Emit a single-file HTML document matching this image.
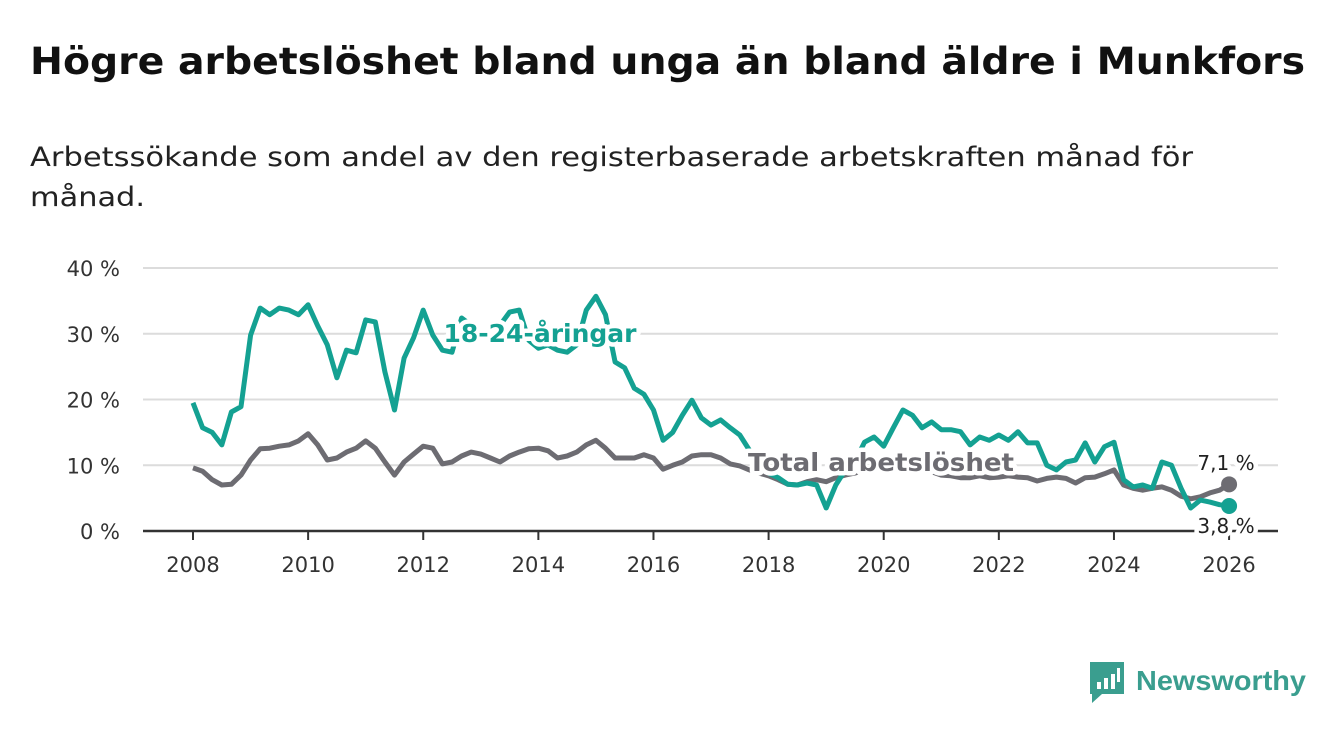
<!DOCTYPE html>
<html><head><meta charset="utf-8"><style>
body{margin:0;background:#fff;width:1340px;height:734px;overflow:hidden;font-family:"DejaVu Sans","Liberation Sans",sans-serif}
</style></head><body>
<svg width="1340" height="734" style="position:absolute;left:0;top:0;font-family:'DejaVu Sans','Liberation Sans',sans-serif">
<text x="30" y="74" font-size="37" font-weight="bold" fill="#111" textLength="1275" lengthAdjust="spacingAndGlyphs">Högre arbetslöshet bland unga än bland äldre i Munkfors</text>
<text x="30" y="166" font-size="27" fill="#222" textLength="1163" lengthAdjust="spacingAndGlyphs">Arbetssökande som andel av den registerbaserade arbetskraften månad för</text>
<text x="30" y="206" font-size="27" fill="#222" textLength="115" lengthAdjust="spacingAndGlyphs">månad.</text>
<g id="grid"></g><g id="series"></g><g id="labels"></g>
<g>
<path d="M1090 662 h34 v32 h-22 l-10 9 v-9 h-2 z" fill="#3a9e8f"/>
<rect x="1097" y="682" width="4" height="7" fill="#fff"/><rect x="1104" y="678" width="4" height="11" fill="#fff"/><rect x="1111" y="674" width="4" height="15" fill="#fff"/><rect x="1117" y="668" width="3" height="14" fill="#fff"/>
<text x="1136" y="690" font-size="28" font-weight="bold" fill="#3a9e8f" font-family="Liberation Sans" textLength="170" lengthAdjust="spacingAndGlyphs">Newsworthy</text>
</g>
</svg>
<script>
const yTicks=[0,10,20,30,40];
const xTicks=[2008,2010,2012,2014,2016,2018,2020,2022,2024,2026];
const startYear=2008, stepYear=1/6;
const youth=[19.5,15.7,15,13.1,18.1,18.9,29.8,33.9,32.9,33.9,33.6,32.9,34.4,31.2,28.3,23.3,27.5,27.1,32.1,31.8,24.2,18.4,26.3,29.4,33.6,29.8,27.5,27.2,32.4,31.3,29.8,30.6,31.3,33.3,33.6,29,27.8,28.3,27.5,27.2,28.3,33.6,35.7,32.9,25.7,24.8,21.7,20.8,18.4,13.8,15,17.6,19.9,17.2,16.1,16.9,15.7,14.6,12.3,10,8.8,8.1,7.1,7,7.3,7,3.5,7,9.3,10.5,13.5,14.3,12.9,15.7,18.4,17.6,15.7,16.6,15.4,15.4,15.1,13.1,14.3,13.8,14.6,13.8,15.1,13.4,13.4,10,9.3,10.5,10.8,13.4,10.5,12.8,13.5,7.8,6.7,7,6.5,10.5,10,6.5,3.5,4.7,4.4,4,3.8];
const total=[9.6,9.1,7.8,7,7.1,8.5,10.8,12.5,12.6,12.9,13.1,13.7,14.8,13.1,10.8,11.1,12,12.6,13.7,12.6,10.5,8.5,10.5,11.7,12.9,12.6,10.2,10.5,11.4,12,11.7,11.1,10.5,11.4,12,12.5,12.6,12.2,11.1,11.4,12,13.1,13.8,12.6,11.1,11.1,11.1,11.6,11.1,9.4,10,10.5,11.4,11.6,11.6,11.1,10.2,9.9,9.3,8.8,8.4,7.8,7.1,7,7.5,7.8,7.5,8.1,8.5,8.8,9.3,9.3,9.3,9.6,9.9,9.6,9.3,9,8.5,8.4,8.1,8.1,8.4,8.1,8.2,8.4,8.2,8.1,7.6,8,8.2,8,7.3,8.1,8.2,8.7,9.3,7,6.5,6.2,6.5,6.7,6.2,5.3,4.9,5.2,5.8,6.2,7.1];
const NS="http://www.w3.org/2000/svg";
const X=y=>193+(y-2008)*57.56, Y=v=>531-v*6.575;
function mk(t,a,p){const e=document.createElementNS(NS,t);for(const k in a)e.setAttribute(k,a[k]);p.appendChild(e);return e;}
const g=document.getElementById('grid'),s=document.getElementById('series'),L=document.getElementById('labels');
yTicks.forEach(v=>{
 const l=mk('line',{x1:143,x2:1278,y1:Y(v),y2:Y(v),stroke:v?'#dcdcdc':'#333','stroke-width':v?2:2.5},g);
 
 
 const t=mk('text',{x:120,y:Y(v)+8,'text-anchor':'end','font-size':21,fill:'#333'},g);t.textContent=v+' %';
 
 
});
xTicks.forEach(y=>{
 const l=mk('line',{x1:X(y),x2:X(y),y1:531,y2:540,stroke:'#333','stroke-width':2},g);
 
 
 const t=mk('text',{x:X(y),y:572,'text-anchor':'middle','font-size':21,fill:'#333'},g);t.textContent=y;
 
 
});
function line(arr,col,name){
 const d=arr.map((v,i)=>(i?'L':'M')+X(startYear+i*stepYear).toFixed(1)+' '+Y(v).toFixed(1)).join(' ');
 const p=mk('path',{d:d,fill:'none',stroke:col,'stroke-width':5,'stroke-linejoin':'round'},s);
 
 
 const n=arr.length-1;
 const c=mk('circle',{cx:X(startYear+n*stepYear),cy:Y(arr[n]),r:8,fill:col},s);
 
 
}
line(total,'#6d6c72','total');
line(youth,'#14a192','youth');
function lab(x,y,txt,col,size,bold,anchor,name,len){
 const a={x:x,y:y,'font-size':size,'font-weight':bold?'bold':'normal',fill:col,stroke:'#fff','stroke-width':9,'paint-order':'stroke','stroke-linejoin':'round','text-anchor':anchor};
 if(len){a.textLength=len;a.lengthAdjust='spacingAndGlyphs';}
 const t=mk('text',a,L);
 t.textContent=txt;
 
 
}
lab(540,342,'18-24-åringar','#14a192',25,true,'middle','youth-series-label',193);
lab(881,471,'Total arbetslöshet','#6d6c72',25,true,'middle','total-series-label',266);
lab(1226,470,'7,1 %','#222',20,false,'middle','total-end-value');
lab(1226,533,'3,8 %','#222',20,false,'middle','youth-end-value');
</script>
</body></html>
